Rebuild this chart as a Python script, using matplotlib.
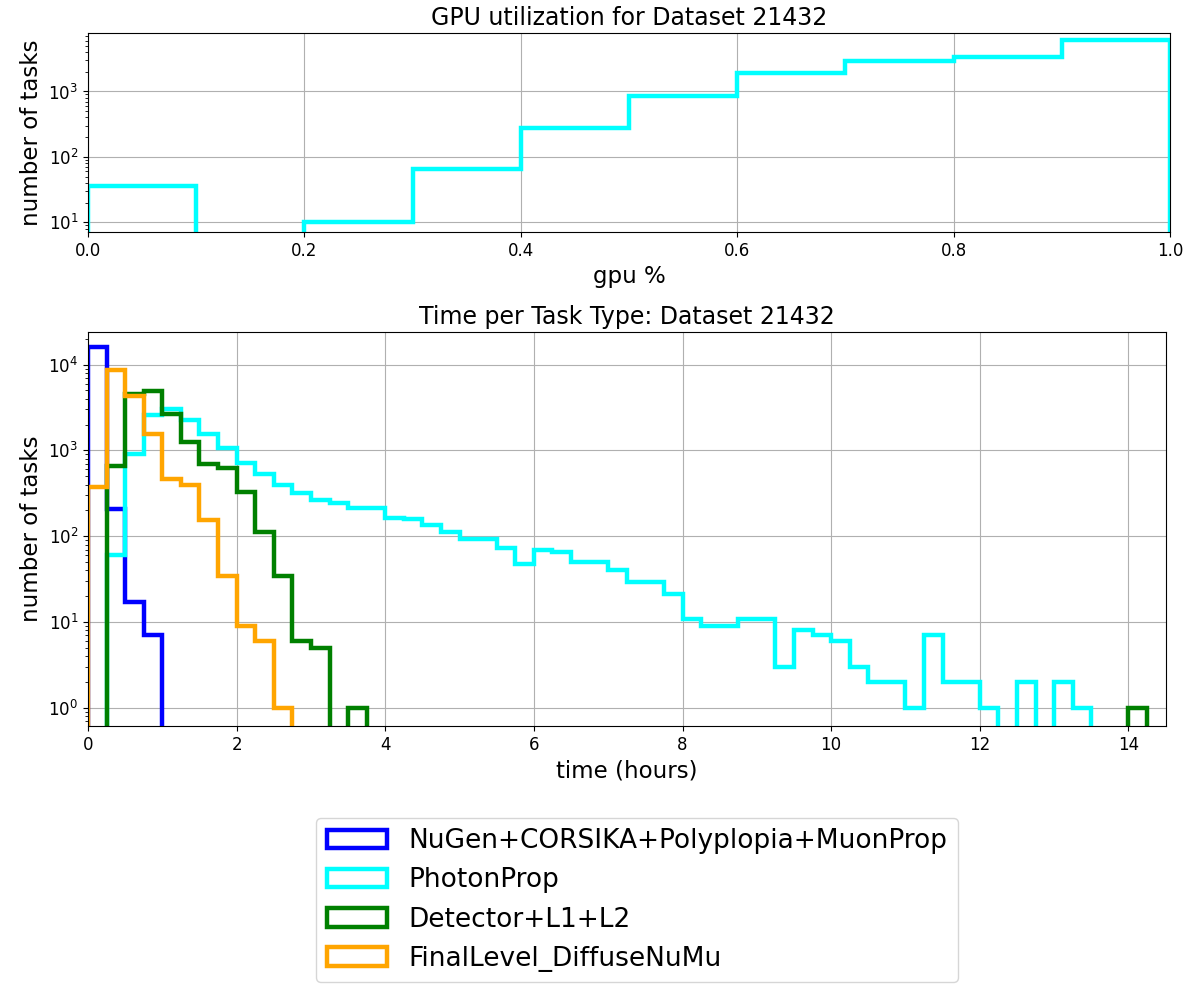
import numpy as np
import matplotlib.pyplot as plt

# gpu utilization histogram (10 bins from 0 to 1)
gpu_edges = np.linspace(0, 1, 11)
gpu_counts = [36, 0, 10, 66, 280, 840, 1910, 2890, 3370, 6050]

# time per task type, 0.25 h bins from 0 to 14.5 h
time_edges = np.arange(0, 14.5 + 0.001, 0.25)

nugen_counts = [15900, 207, 17, 7] + [0] * 54
photon_counts = [0, 60, 910, 2600, 3000, 2260, 1540, 1070, 718, 525,
                 400, 318, 266, 247, 212, 212, 165, 157, 137, 112,
                 94, 94, 74, 48, 69, 65, 50, 50, 41, 29,
                 29, 21, 11, 9, 9, 11, 11, 3, 8, 7,
                 6, 3, 2, 2, 1, 7, 2, 2, 1, 0,
                 2, 0, 2, 1, 0, 0, 0, 0]
detector_counts = [0, 656, 4550, 4900, 2630, 1250, 687, 630, 330, 111,
                   34, 6, 5, 0, 1] + [0] * 41 + [1, 0]
final_counts = [370, 8600, 4270, 1540, 460, 394, 155, 34, 9, 6, 1] + [0] * 47

task_names = ["NuGen+CORSIKA+Polyplopia+MuonProp", "PhotonProp",
              "Detector+L1+L2", "FinalLevel_DiffuseNuMu"]
task_colors = ["blue", "cyan", "green", "orange"]
task_counts = [nugen_counts, photon_counts, detector_counts, final_counts]

fig = plt.figure(figsize=(12.04, 9.9), dpi=100)

# top: gpu utilization
ax1 = fig.add_axes([0.0731, 0.7657, 0.8987, 0.201])
ax1.hist(gpu_edges[:-1], bins=gpu_edges, weights=gpu_counts,
         histtype="step", log=True, color="cyan", linewidth=3.2)
ax1.set_xlim(0, 1)
ax1.set_ylim(7.1, 7850)
ax1.set_title("GPU utilization for Dataset 21432", fontsize=17)
ax1.set_xlabel("gpu %", fontsize=16.5)
ax1.set_ylabel("number of tasks", fontsize=16.5)
ax1.tick_params(labelsize=12)
ax1.grid(True)

# bottom: time per task type
ax2 = fig.add_axes([0.0731, 0.2667, 0.8950, 0.398])
for name, color, counts in zip(task_names, task_colors, task_counts):
    ax2.hist(time_edges[:-1], bins=time_edges, weights=counts,
             histtype="step", log=True, color=color, linewidth=3.2, label=name)
ax2.set_xlim(0, 14.5)
ax2.set_ylim(0.617, 24000)
ax2.set_title("Time per Task Type: Dataset 21432", fontsize=17)
ax2.set_xlabel("time (hours)", fontsize=16.5)
ax2.set_ylabel("number of tasks", fontsize=16.5)
ax2.tick_params(labelsize=12)
ax2.grid(True)

handles, labels = ax2.get_legend_handles_labels()
fig.legend(handles, labels, loc="center", bbox_to_anchor=(0.529, 0.091),
           fontsize=19, handlelength=2.3)

fig.savefig("out.png", dpi=100)
